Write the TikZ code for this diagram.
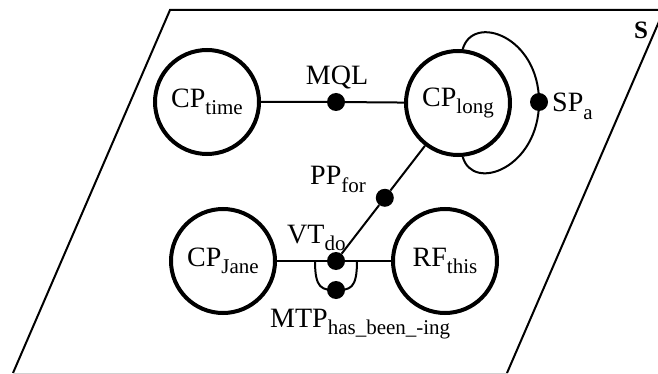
\documentclass[tikz,border=0pt]{standalone}
\usepackage{fontspec}
\setmainfont{Liberation Serif}
\usetikzlibrary{calc}
\newcommand{\sbs}[1]{\raisebox{-7.5pt}{\fontsize{21}{21}\selectfont #1}}
\begin{document}
\begin{tikzpicture}[x=1pt,y=-1pt,
  every node/.style={font=\fontsize{28}{32}\selectfont},
  bigc/.style={circle, draw, line width=4pt, minimum size=104pt, inner sep=0pt},
  dot/.style={circle, fill=black, minimum size=18pt, inner sep=0pt},
  conn/.style={line width=2pt},
  frame/.style={line width=2pt},
  lbl/.style={anchor=base west, inner sep=0pt}]
\useasboundingbox (0,0) rectangle (658,374);
% frame (parallelogram)
\draw[frame] (13,373) -- (170,10) -- (664,10) -- (507,373);
\draw[gray!35, line width=1pt] (13,373.5) -- (507,373.5);
% big nodes
\node[bigc] (cptime) at (207,102) {CP\sbs{time}};
\node[bigc] (cplong) at (458,103) {CP\sbs{long}};
\node[bigc] (cpjane) at (223,261) {CP\sbs{Jane}};
\node[bigc] (rfthis) at (445,261) {RF\sbs{this}};
% dots
\node[dot] (mql) at (336,102) {};
\node[dot] (spa) at (539,102) {};
\node[dot] (vt) at (336,261) {};
\node[dot] (pp) at ($(vt)!0.4!(cplong)$) {};
\node[dot] (mtp) at (336,290) {};
\coordinate (ml) at (315,261);
\coordinate (mr) at (357,261);
% connectors
\draw[conn] (cptime) -- (mql) -- (cplong);
\draw[conn] (cpjane) -- (vt) -- (rfthis);
\draw[conn] (vt) -- (pp) -- (cplong);
\draw[conn] (cplong.85) .. controls +(10,-36) and +(0,-66) .. (spa.center)
  .. controls +(0,66) and +(10,36) .. (cplong.-85);
\draw[conn] (ml) .. controls +(0,28) and +(-14,0) .. (mtp.center)
  .. controls +(14,0) and +(0,28) .. (mr);
% labels
\node[anchor=base, inner sep=0pt] (mqllab) at (337,85) {MQL};
\node[lbl] (spalab) at (552,112) {SP\sbs{a}};
\node[lbl] (pplab) at (310,185) {PP\sbs{for}};
\node[lbl] (vtlab) at (287,243) {VT\sbs{do}};
\node[lbl] (mtplab) at (270,327) {MTP\sbs{has\_been\_-ing}};
\node[lbl] (slab) at (634,39) {\fontsize{25}{25}\selectfont\bfseries S};
\end{tikzpicture}
\end{document}
